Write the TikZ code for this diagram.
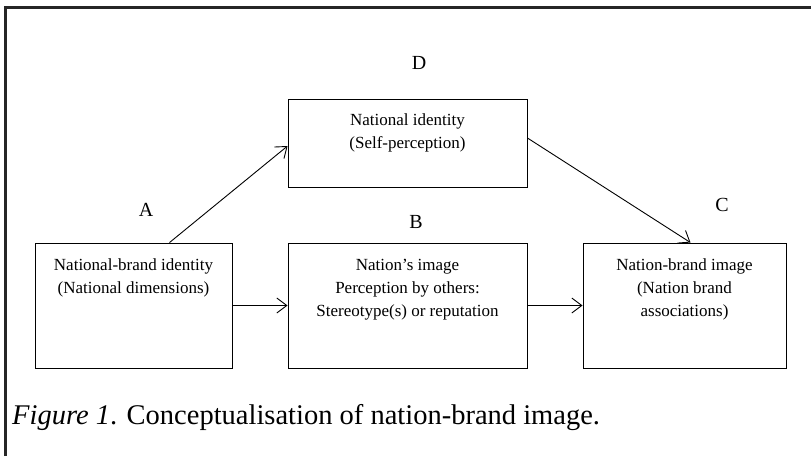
\documentclass[tikz,border=0pt]{standalone}
\usepackage{fontspec}
\setmainfont{Liberation Serif}
\usetikzlibrary{arrows.meta,positioning}

\begin{document}
\begin{tikzpicture}[x=1pt,y=-1pt,
	box/.style={draw, line width=0.9pt, minimum width=197pt, minimum height=125pt, inner sep=0pt},
	boxtxt/.style={align=center, inner sep=0pt, font=\fontsize{17}{23}\selectfont},
	letter/.style={font=\fontsize{20}{22}\selectfont},
	link/.style={line width=0.9pt, -{Straight Barb[length=10pt,width=15pt]}}]

	\useasboundingbox (0,0) rectangle (811,456);
	\draw [line width=3pt, black!85] (5,456) -- (5,7) -- (811,7);

	\node (a) [letter] at (146,210) {A};
	\node (b) [letter] at (416,222) {B};
	\node (c) [letter] at (722,205) {C};
	\node (d) [letter] at (419,63) {D};

	\node (A) [box] at (133.5,305.5) {};
	\node (B) [box, minimum width=239pt] at (407.5,305.5) {};
	\node (C) [box, minimum width=203pt] at (684.5,305.5) {};
	\node (D) [box, minimum width=239pt, minimum height=88pt] at (407.5,143) {};

	\node (At) [boxtxt, below=16pt of A.north] {National-brand identity\\(National dimensions)};
	\node (Bt) [boxtxt, below=16pt of B.north] {Nation's image\\Perception by others:\\Stereotype(s) or reputation};
	\node (Ct) [boxtxt, below=16pt of C.north] {Nation-brand image\\(Nation brand\\associations)};
	\node (Dt) [boxtxt, below=15pt of D.north] {National identity\\(Self-perception)};

	\draw [link] ([xshift=36pt]A.north) -- ([yshift=-3pt]D.west);
	\draw [link] ([yshift=5pt]D.east) -- ([xshift=6pt]C.north);
	\draw [link] (A.east) -- (B.west);
	\draw [link] (B.east) -- (C.west);

	\node (cap) [anchor=west, inner sep=0pt, font=\fontsize{28.5}{32}\selectfont] at (12,418) {\textit{Figure 1}. Conceptualisation of nation-brand image.};

\end{tikzpicture}
\end{document}
